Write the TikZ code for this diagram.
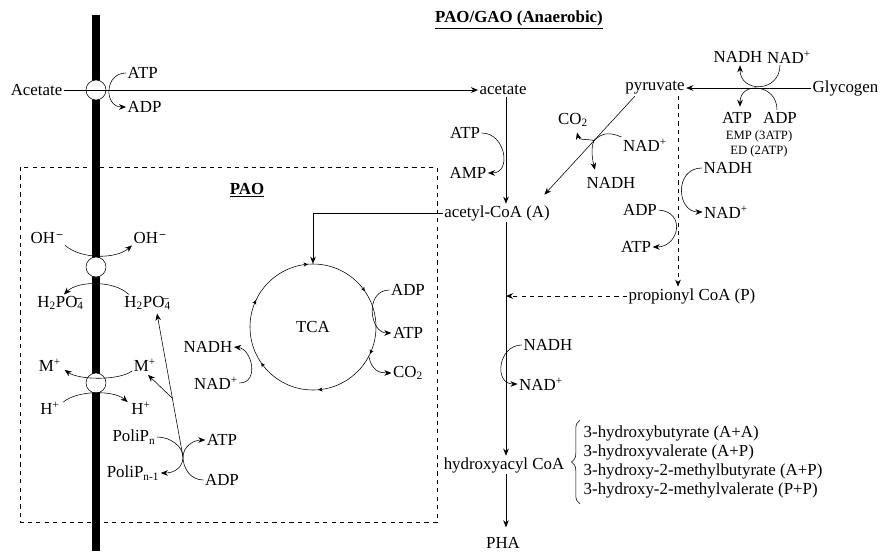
\documentclass[tikz,border=0pt]{standalone}
\usepackage{fontspec}
\setmainfont{Liberation Serif}
\usetikzlibrary{arrows.meta, positioning, calc, decorations.pathreplacing, decorations.markings}

\begin{document}
\begin{tikzpicture}[x=0.025cm, y=-0.025cm,
    every node/.style={font=\fontsize{12}{14}\selectfont, inner sep=1pt},
    small/.style={font=\fontsize{9}{10}\selectfont},
    hdr/.style={font=\fontsize{12}{14}\selectfont\bfseries},
    arr/.style={-{Stealth[length=5pt,width=4pt]}},
    pore/.style={circle, draw, fill=white, minimum size=0.5cm, inner sep=0pt}]
	\useasboundingbox (0,0) rectangle (882,553);
	\draw[dashed] (20,167) rectangle (437,522);
	\draw[line width=6pt] (96,15) -- (96,551);
	\node[pore] (p1) at (96,90) {};
	\node[pore] (p2) at (96,267) {};
	\node[pore] (p3) at (96,383) {};
	\node[hdr] (title) at (519,20) {\underline{PAO/GAO (Anaerobic)}};
	\node[hdr] (pao) at (247,190) {\underline{PAO}};
	% acetate uptake
	\node[anchor=east] (acout) at (64,90) {Acetate};
	\node[anchor=west] (acin) at (478,90) {acetate};
	\draw[arr] (acout.east) -- (acin.west);
	\node[anchor=west] (atpm) at (126,73) {ATP};
	\node[anchor=west] (adpm) at (126,107) {ADP};
	\draw[arr] (atpm.west) .. controls +(-22,0) and +(-22,0) .. (adpm.west);
	% glycogen
	\node[anchor=east] (glyc) at (880,88) {Glycogen};
	\node (pyr) at (655,88) {pyruvate};
	\draw[arr] (glyc.west) -- (pyr.east);
	\node (nadhg) at (738,57) {NADH};
	\node (nadpg) at (789,57) {NAD\textsuperscript{+}};
	\draw[arr] ($(nadpg.south)+(-9,0)$) .. controls +(0,28) and +(0,28) .. ($(nadhg.south)+(2,1)$);
	\node (atpg) at (737,118) {ATP};
	\node (adpg) at (780,118) {ADP};
	\draw[arr] ($(adpg.north)+(-3,-1)$) .. controls +(0,-26) and +(0,-26) .. ($(atpg.north)+(3,-4)$);
	\node[small] (emp) at (759,136) {EMP (3ATP)};
	\node[small] (ed) at (759,151) {ED (2ATP)};
	% main line
	\coordinate (mx) at (506,0);
	\node (acoa) at (497,213) {acetyl-CoA (A)};
	\node (prop) at (692,296) {propionyl CoA (P)};
	\node (hcoa) at (504,465) {hydroxyacyl CoA};
	\node (pha) at (503,543) {PHA};
	\draw[arr] (acin.south -| mx) -- (acoa.north -| mx);
	\draw[arr] (acoa.south -| mx) -- (hcoa.north -| mx);
	\draw[arr, shorten >=6pt] (hcoa.south -| mx) -- (pha.north -| mx);
	\coordinate (pyrd) at (678,96);
	\draw[dashed, arr] (pyrd) -- (pyrd |- prop.north);
	\draw[dashed, arr] (prop.west) -- (prop.west -| mx);
	\node (atpa) at (465,133) {ATP};
	\node (ampa) at (468,173) {AMP};
	\draw[arr] (atpa.east) .. controls +(24,0) and +(24,0) .. (ampa.east);
	% pyruvate to acetyl-CoA
	\coordinate (dg1) at ($(pyr.south west)+(11,0)$);
	\coordinate (dg2) at ($(acoa.north east)+(-7,-9)$);
	\draw[arr] (dg1) -- (dg2);
	\coordinate (dgx) at ($(dg1)!0.45!(dg2)$);
	\node (co2a) at (573,120) {CO\textsubscript{2}};
	\node (nadpa) at (645,145) {NAD\textsuperscript{+}};
	\node (nadha) at (611,183) {NADH};
	\draw[arr] ($(nadpa.west)+(0,-8)$) .. controls +(-12,-5) and +(8,-8) .. (dgx) .. controls +(-4,8) and +(-2,-8) .. ($(nadha.north west)+(10,-6)$);
	\draw[arr] (dgx) .. controls +(-10,-2) and +(2,8) .. ($(co2a.south)+(4,4)$);
	% propionyl side
	\node (adpb) at (640,210) {ADP};
	\node (atpb) at (636,247) {ATP};
	\draw[arr] (adpb.east) .. controls +(28,2) and +(26,0) .. (atpb.east);
	\node (nadhb) at (728,168) {NADH};
	\node (nadpb) at (726,212) {NAD\textsuperscript{+}};
	\draw[arr] (nadhb.west) .. controls +(-28,0) and +(-26,0) .. (nadpb.west);
	\node (nadhc) at (548,345) {NADH};
	\node (nadpc) at (541,384) {NAD\textsuperscript{+}};
	\draw[arr] (nadhc.west) .. controls +(-24,0) and +(-24,0) .. (nadpc.west);
	% PHA monomers
	\node[anchor=west, align=left, font=\fontsize{12}{13.5}\selectfont] (plist) at (582,462) {3-hydroxybutyrate (A+A)\\3-hydroxyvalerate (A+P)\\3-hydroxy-2-methylbutyrate (A+P)\\3-hydroxy-2-methylvalerate (P+P)};
	\draw[decorate, decoration={brace, amplitude=6pt}] ($(plist.south west)+(-2,4)$) -- ($(plist.north west)+(-2,-4)$);
	% TCA
	\node[circle, minimum size=3.15cm] (tca) at (313,327) {TCA};
	\draw[postaction={decorate}, decoration={markings, mark=between positions 0.07 and 1 step 0.1667 with {\arrow{Stealth[length=3pt,width=3pt]}}}] (tca.center) circle [radius=63];
	\draw[arr] (acoa.west) -| (tca.north);
	\node (adpt) at (408,290) {ADP};
	\node (atpt) at (408,333) {ATP};
	\node (co2t) at (408,373) {CO\textsubscript{2}};
	\draw[arr] (adpt.west) .. controls +(-25,0) and +(-22,0) .. (atpt.west);
	\draw[arr] (tca.-28) .. controls +(3,14) and +(-12,0) .. (co2t.west);
	\node (nadht) at (208,347) {NADH};
	\node (nadpt) at (216,383) {NAD\textsuperscript{+}};
	\draw[arr] (nadpt.east) .. controls +(20,0) and +(18,2) .. (nadht.east);
	% membrane exchange
	\node (ohl) at (47,238) {OH\textsuperscript{\,\textbf{--}}};
	\node (ohr) at (150,238) {OH\textsuperscript{\,\textbf{--}}};
	\draw[arr] (ohl.south east) .. controls +(16,14) and +(-16,14) .. (ohr.south west);
	\node (h2l) at (60,303) {H\textsubscript{2}PO\textsubscript{4}\kern-0.45em\textsuperscript{\textbf{--}}};
	\node (h2r) at (147,303) {H\textsubscript{2}PO\textsubscript{4}\kern-0.45em\textsuperscript{--}};
	\draw[arr] ($(h2r.north west)+(6,0)$) .. controls +(-14,-14) and +(14,-14) .. ($(h2l.north)+(4,0)$);
	\node (mpl) at (50,365) {M\textsuperscript{+}};
	\node (mpr) at (145,365) {M\textsuperscript{+}};
	\draw[arr] ($(mpr.south west)+(0,-2)$) .. controls +(-14,10) and +(14,10) .. ($(mpl.south east)+(2,-3)$);
	\node (hpl) at (50,408) {H\textsuperscript{+}};
	\node (hpr) at (141,408) {H\textsuperscript{+}};
	\draw[arr] ($(hpl.north east)+(2,2)$) .. controls +(14,-12) and +(-14,-12) .. ($(hpr.north west)+(-2,2)$);
	% polyphosphate
	\node (polin) at (134,437) {PoliP\textsubscript{n}};
	\node (polim) at (133,473) {PoliP\textsubscript{n-1}};
	\node (atpp) at (222,440) {ATP};
	\node (adpp) at (222,480) {ADP};
	\coordinate (polix) at (183,457);
	\draw[arr] (polin.east) .. controls +(14,0) and +(0,-10) .. (polix) .. controls +(0,10) and +(14,0) .. (polim.east);
	\draw[arr] (adpp.west) .. controls +(-14,0) and +(0,10) .. (polix) .. controls +(0,-10) and +(-12,0) .. (atpp.west);
	\coordinate (h2end) at ($(h2r.south)+(10,2)$);
	\draw[arr] (polix) -- (h2end);
	\coordinate (brm) at ($(polix)!0.41!(h2end)$);
	\draw[arr] (brm) -- ($(mpr.south)+(3,2)$);
\end{tikzpicture}
\end{document}
